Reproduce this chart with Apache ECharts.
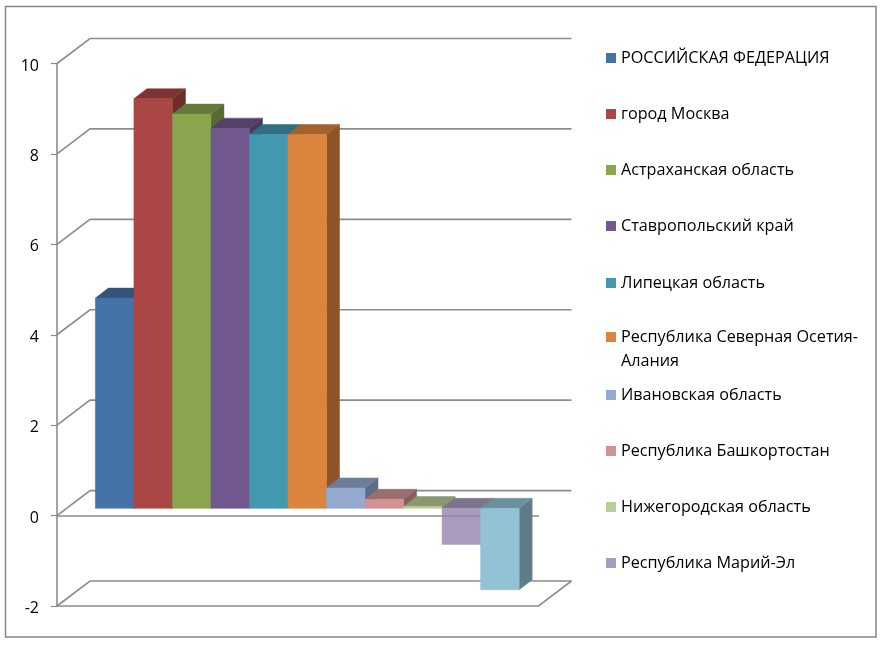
<!DOCTYPE html>
<html>
<head>
<meta charset="utf-8">
<style>html,body{margin:0;padding:0;background:#fff}#c{width:881px;height:645px}</style>
<script src="https://cdn.jsdelivr.net/npm/echarts@6/dist/echarts.min.js"></script>
</head>
<body>
<div id="c"></div>
<script>
const regions = ['РОССИЙСКАЯ ФЕДЕРАЦИЯ','город Москва','Астраханская область','Ставропольский край','Липецкая область','Республика Северная Осетия-Алания','Ивановская область','Республика Башкортостан','Нижегородская область','Республика Марий-Эл','(вне легенды)'];
const values = [4.65,9.06,8.72,8.41,8.27,8.27,0.45,0.2,0.04,-0.8,-1.8];
const tickValues = [-2,0,2,4,6,8,10];
const colors = ['#4573A7','#AA4643','#89A54E','#71588F','#4198AF','#DB843D','#93A9CF','#D19392','#B9CD96','#A99BBD','#91C3D5'];
const legendCenters = [58,114,170,226,283,337,395,451,507,563];

const LINE = '#8c8c8c';
const WALL = [33,-25];        // depth vector of the chart box, px
const BAR_DEPTH = [13,-10];   // depth vector of a bar, px
const BAR_GAP = [9.5,-7.25];  // distance from the front plane to the bar, px
const BANDS = 12.5;           // band width in bar widths

function shade(hex,k){
  const n = parseInt(hex.slice(1),16);
  const c = [n>>16,(n>>8)&255,n&255].map(v=>Math.round(v*k));
  return 'rgb('+c.join(',')+')';
}
function face(points,fill){
  return {type:'polygon',shape:{points},style:{fill,stroke:fill,lineWidth:0.5},silent:true};
}
function barRenderer(i){
  return function(params,api){
    const zero = api.coord([0,0]);
    const tip = api.coord([0,api.value(1)]);
    const w = api.size([1,0])[0]/BANDS;
    const x0 = zero[0]+(i-(values.length-1)/2-0.5)*w+BAR_GAP[0];
    const x1 = x0+w;
    const base = zero[1]+BAR_GAP[1];
    const end = tip[1]+BAR_GAP[1];
    const t = Math.min(base,end), b = Math.max(base,end);
    const dx = BAR_DEPTH[0], dy = BAR_DEPTH[1];
    const col = colors[i];
    return {type:'group',children:[
      face([[x1,t],[x1+dx,t+dy],[x1+dx,b+dy],[x1,b]],shade(col,0.64)),
      face([[x0,t],[x1,t],[x1+dx,t+dy],[x0+dx,t+dy]],shade(col,0.74)),
      face([[x0,t],[x1,t],[x1,b],[x0,b]],col)
    ]};
  };
}
function wallRenderer(params,api){
  const v = api.value(1);
  const p = api.coord([0,v]);
  const bw = api.size([1,0])[0];
  const x0 = p[0]-bw/2, x1 = p[0]+bw/2, y = p[1];
  const style = {stroke:LINE,lineWidth:1.6,fill:'none'};
  const children = [{type:'polyline',silent:true,style,shape:{points:[[x0,y],[x0+WALL[0],y+WALL[1]],[x1+WALL[0],y+WALL[1]]]}}];
  if(v===tickValues[0]){
    children.push({type:'polyline',silent:true,style,shape:{points:[[x0,y],[x1,y],[x1+WALL[0],y+WALL[1]]]}});
  }
  return {type:'group',children};
}

const barSeries = regions.map((name,i)=>({
  name,type:'custom',coordinateSystem:'cartesian2d',
  z: i===9?4:(i===10?6:2),
  clip:false,silent:true,
  itemStyle:{color:colors[i]},
  renderItem:barRenderer(i),
  data:[[0,values[i]]]
}));
const wallSeries = {
  type:'custom',coordinateSystem:'cartesian2d',z:1,clip:false,silent:true,
  renderItem:wallRenderer,
  data:tickValues.map(v=>[0,v])
};
const legends = legendCenters.map((c,i)=>{
  const wrapped = regions[i].includes('Осетия-');
  return {
    show:true,data:[regions[i]],orient:'vertical',left:606,top:wrapped?c-36:c-12,padding:0,
    icon:'rect',itemWidth:10,itemHeight:10,selectedMode:false,
    formatter:n=>wrapped?'\n'+n.replace('Осетия-','Осетия-\n'):n,
    textStyle:{fontFamily:'Open Sans',fontSize:16.2,color:'#000',lineHeight:24}
  };
});

const chart = echarts.init(document.getElementById('c'),null,{renderer:'canvas'});
chart.setOption({
  animation:false,
  backgroundColor:'#fff',
  grid:{left:57,right:342.5,top:63.5,bottom:39,containLabel:false},
  xAxis:{type:'category',data:['Все'],z:5,axisTick:{show:false},axisLabel:{show:false},
    axisLine:{show:true,onZero:true,lineStyle:{color:LINE,width:1.6}},splitLine:{show:false}},
  yAxis:{type:'value',min:-2,max:10,interval:2,
    axisLine:{show:true,lineStyle:{color:LINE,width:1.6}},
    axisTick:{show:true,length:6,lineStyle:{color:LINE,width:1.2}},
    axisLabel:{margin:18,formatter:'{a|{value}}',
      rich:{a:{fontFamily:'Open Sans',fontSize:16,color:'#000',padding:[5,0,0,0]}}},
    splitLine:{show:false}},
  legend:legends,
  series:[wallSeries].concat(barSeries),
  graphic:[{type:'rect',silent:true,z:0,shape:{x:5.5,y:6.5,width:870.5,height:630.5},style:{fill:'none',stroke:'#868686',lineWidth:1.5}}]
});
</script>
</body>
</html>
